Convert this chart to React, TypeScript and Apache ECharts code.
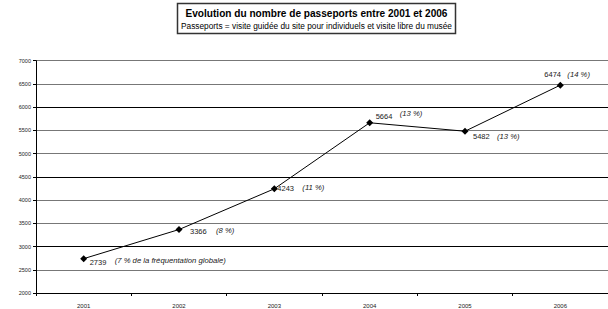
import React, { useEffect, useRef } from "react";
import * as echarts from "echarts";

const years = ["2001", "2002", "2003", "2004", "2005", "2006"];
const passports = [2739, 3366, 4243, 5664, 5482, 6474];
const notes = [
  "(7 % de la fréquentation globale)",
  "(8 %)",
  "(11 %)",
  "(13 %)",
  "(13 %)",
  "(14 %)",
];
const titleText = "Evolution du nombre de passeports entre 2001 et 2006";
const subtitleText =
  "Passeports = visite guidée du site pour individuels et visite libre du musée";

// label placement (pixels relative to the marker)
const valueOffsets = [
  [6, 4],
  [11, 2],
  [3, 0],
  [6, -6],
  [8, 5],
  [-16, -11],
];
const noteOffsets = [
  [31, 2],
  [37, 1],
  [28, -1],
  [30, -9],
  [32, 5],
  [7, -11],
];

const FONT = "'Liberation Sans', Arial, sans-serif";

export default function App() {
  const ref = useRef<HTMLDivElement>(null);
  useEffect(() => {
    if (!ref.current) return;
    const chart = echarts.init(ref.current, null, { renderer: "svg" });
    const half = 3.5;
    chart.setOption({
      animation: false,
      backgroundColor: "#ffffff",
      textStyle: { fontFamily: FONT },
      graphic: [
        {
          type: "rect",
          shape: { x: 177.5, y: 3.5, width: 278, height: 30 },
          style: { fill: "#ffffff", stroke: "#333", lineWidth: 1.5 },
          z: 10,
        },
        {
          type: "text",
          x: 316.5,
          y: 13.5,
          z: 11,
          style: {
            text: titleText,
            fontFamily: FONT,
            fontWeight: "bold",
            fontSize: 10.1,
            fill: "#000",
            align: "center",
            verticalAlign: "middle",
          },
        },
        {
          type: "text",
          x: 316.5,
          y: 25.5,
          z: 11,
          style: {
            text: subtitleText,
            fontFamily: FONT,
            fontSize: 8.3,
            fill: "#000",
            align: "center",
            verticalAlign: "middle",
          },
        },
      ],
      grid: { left: 36, right: -13, top: 60.7, bottom: 13.3, containLabel: false },
      xAxis: {
        type: "category",
        data: years,
        boundaryGap: true,
        axisLine: { lineStyle: { color: "#000", width: 1 } },
        axisTick: { show: true, length: 3, lineStyle: { color: "#000" } },
        axisLabel: { fontSize: 6, color: "#222", margin: 10, fontFamily: FONT },
      },
      yAxis: {
        type: "value",
        min: 2000,
        max: 7000,
        interval: 500,
        axisLine: { show: true, lineStyle: { color: "#000", width: 1 } },
        axisTick: { show: true, length: 3, lineStyle: { color: "#000" } },
        axisLabel: {
          fontSize: 5.5,
          color: "#222",
          margin: 5,
          fontFamily: FONT,
          formatter: (v: number) => String(v),
        },
        splitLine: {
          show: true,
          lineStyle: { color: ["#777", "#777", "#000"], width: 1 },
        },
      },
      series: [
        {
          type: "line",
          data: passports.map((v, i) => ({
            value: v,
            label: { offset: [valueOffsets[i][0] - half, valueOffsets[i][1]] },
          })),
          symbol: "diamond",
          symbolSize: 7,
          lineStyle: { color: "#000", width: 1 },
          itemStyle: { color: "#000" },
          label: {
            show: true,
            position: "right",
            distance: 0,
            fontSize: 7.5,
            color: "#222",
            fontFamily: FONT,
            formatter: (p: any) => String(p.value),
          },
          z: 3,
        },
        {
          type: "line",
          data: passports.map((v, i) => ({
            value: v,
            label: { offset: [noteOffsets[i][0] - half, noteOffsets[i][1]] },
          })),
          symbol: "diamond",
          symbolSize: 7,
          lineStyle: { color: "transparent", width: 0 },
          itemStyle: { color: "transparent" },
          label: {
            show: true,
            position: "right",
            distance: 0,
            fontSize: 7.7,
            fontStyle: "italic",
            color: "#222",
            fontFamily: FONT,
            formatter: (p: any) => notes[p.dataIndex],
          },
          z: 2,
        },
      ],
    });
    return () => chart.dispose();
  }, []);
  return (
    <div
      ref={ref}
      style={{ position: "fixed", left: 0, top: 0, width: 608, height: 309 }}
    />
  );
}
